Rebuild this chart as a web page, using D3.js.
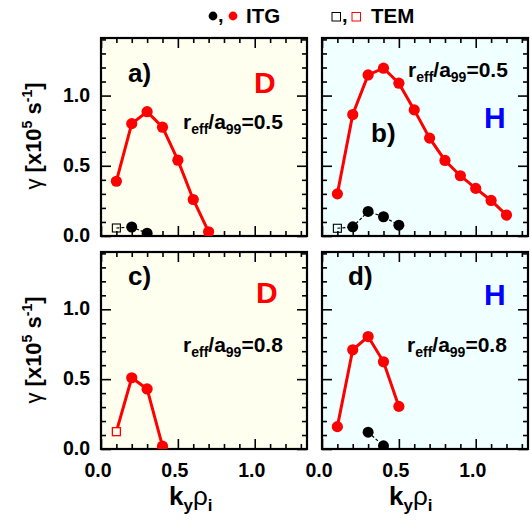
<!DOCTYPE html>
<html>
<head>
<meta charset="utf-8">
<script src="https://cdn.jsdelivr.net/npm/d3@7"></script>
<style>
  body { margin: 0; background: #fff; }
  svg { font-family: "Liberation Sans", Arial, sans-serif; font-weight: bold; }
</style>
</head>
<body>
<svg width="530" height="522"></svg>
<script>
// values
const kyA = [0.1, 0.2, 0.3, 0.4, 0.5, 0.6, 0.7];
const itgA = [0.39, 0.80, 0.885, 0.775, 0.54, 0.26, 0.03];
const kyA_blk = [0.2, 0.3];
const itgA_blk = [0.064, 0.02];
const temA_blk = [[0.1, 0.057]];

const kyB = [0.1, 0.2, 0.3, 0.4, 0.5, 0.6, 0.7, 0.8, 0.9, 1.0, 1.1, 1.2];
const itgB = [0.30, 0.865, 1.147, 1.195, 1.088, 0.898, 0.697, 0.538, 0.429, 0.339, 0.253, 0.149];
const kyB_blk = [0.2, 0.3, 0.4, 0.5];
const itgB_blk = [0.065, 0.175, 0.137, 0.077];
const temB_blk = [[0.1, 0.055]];

const kyC = [0.2, 0.3, 0.4];
const itgC = [0.51, 0.43, 0.02];
const temC_red = [[0.1, 0.124]];

const kyD = [0.1, 0.2, 0.3, 0.4, 0.5];
const itgD = [0.16, 0.71, 0.805, 0.624, 0.305];
const kyD_blk = [0.3, 0.4];
const itgD_blk = [0.12, 0.023];

const xTicks = [0.0, 0.5, 1.0];
const yTicks = [0.0, 0.5, 1.0];

const svg = d3.select("svg");

const panels = [
  { x0: 101, x1: 307, y0: 38, y1: 236, bg: "#fffff0", label: "a)", lab: [128, 82],
    ion: "D", ionCol: "#ff0000", ionPos: [254, 93], r: "0.5", rPos: [183, 129],
    red: kyA.map((k, i) => [k, itgA[i]]), redSq: [],
    blk: kyA_blk.map((k, i) => [k, itgA_blk[i]]), blkSq: temA_blk,
    xLab: false, yLab: true },
  { x0: 322, x1: 528, y0: 38, y1: 236, bg: "#f0ffff", label: "b)", lab: [371, 142],
    ion: "H", ionCol: "#0000ff", ionPos: [484, 128], r: "0.5", rPos: [408, 77],
    red: kyB.map((k, i) => [k, itgB[i]]), redSq: [],
    blk: kyB_blk.map((k, i) => [k, itgB_blk[i]]), blkSq: temB_blk,
    xLab: false, yLab: false },
  { x0: 101, x1: 307, y0: 252, y1: 449, bg: "#fffff0", label: "c)", lab: [128, 285],
    ion: "D", ionCol: "#ff0000", ionPos: [256, 303], r: "0.8", rPos: [183, 352],
    red: kyC.map((k, i) => [k, itgC[i]]), redSq: temC_red,
    blk: [], blkSq: [],
    xLab: true, yLab: true },
  { x0: 322, x1: 528, y0: 252, y1: 449, bg: "#f0ffff", label: "d)", lab: [348, 285],
    ion: "H", ionCol: "#0000ff", ionPos: [484, 305], r: "0.8", rPos: [407, 352],
    red: kyD.map((k, i) => [k, itgD[i]]), redSq: [],
    blk: kyD_blk.map((k, i) => [k, itgD_blk[i]]), blkSq: [],
    xLab: true, yLab: false }
];

const minor = d3.range(0, 14).map(d => d / 10);
const minorY = d3.range(0, 15).map(d => d / 10);

panels.forEach(p => {
  const x = d3.scaleLinear().domain([0, 1.34]).range([p.x0, p.x1]);
  const y = d3.scaleLinear().domain([0, 1.41]).range([p.y1, p.y0]);
  const g = svg.append("g");

  g.append("rect")
    .attr("x", p.x0).attr("y", p.y0)
    .attr("width", p.x1 - p.x0).attr("height", p.y1 - p.y0)
    .attr("fill", p.bg);

  // ticks on all four sides, pointing in
  const ax = (axis, tr, vals, size) => {
    const a = g.append("g").attr("transform", tr)
      .call(axis.tickValues(vals).tickSize(size).tickFormat(""));
    a.select(".domain").remove();
    a.selectAll("line").attr("stroke", "#000").attr("stroke-width", 1.6);
  };
  const minX = minor.filter(v => Math.abs(v * 2 - Math.round(v * 2)) > 1e-6);
  const minY = minorY.filter(v => Math.abs(v * 2 - Math.round(v * 2)) > 1e-6);
  ax(d3.axisBottom(x), `translate(0,${p.y1})`, xTicks, -10);
  ax(d3.axisBottom(x), `translate(0,${p.y1})`, minX, -5);
  ax(d3.axisTop(x), `translate(0,${p.y0})`, xTicks, -10);
  ax(d3.axisTop(x), `translate(0,${p.y0})`, minX, -5);
  ax(d3.axisLeft(y), `translate(${p.x0},0)`, yTicks, -10);
  ax(d3.axisLeft(y), `translate(${p.x0},0)`, minY, -5);
  ax(d3.axisRight(y), `translate(${p.x1},0)`, yTicks, -10);
  ax(d3.axisRight(y), `translate(${p.x1},0)`, minY, -5);

  g.append("rect")
    .attr("x", p.x0).attr("y", p.y0)
    .attr("width", p.x1 - p.x0).attr("height", p.y1 - p.y0)
    .attr("fill", "none").attr("stroke", "#000").attr("stroke-width", 2.2);

  if (p.yLab) {
    g.selectAll(".yl").data(yTicks).join("text")
      .attr("x", p.x0 - 11).attr("y", d => y(d) + 6)
      .attr("text-anchor", "end").attr("font-size", 19.5)
      .text(d => d.toFixed(1));
  }
  if (p.xLab) {
    g.selectAll(".xl").data(xTicks).join("text")
      .attr("x", d => x(d) - 3).attr("y", p.y1 + 28)
      .attr("text-anchor", "middle").attr("font-size", 19.5)
      .text(d => d.toFixed(1));
  }

  const line = d3.line().x(d => x(d[0])).y(d => y(d[1]));
  const clip = "clip" + p.label[0];
  svg.append("clipPath").attr("id", clip).append("rect")
    .attr("x", p.x0).attr("y", p.y0 - 10)
    .attr("width", p.x1 - p.x0).attr("height", p.y1 - p.y0 + 10);
  const m = g.append("g").attr("clip-path", `url(#${clip})`);

  // black (dashed) series
  const blkAll = p.blkSq.concat(p.blk);
  if (blkAll.length > 1) {
    m.append("path").attr("d", line(blkAll))
      .attr("fill", "none").attr("stroke", "#000")
      .attr("stroke-width", 1.2).attr("stroke-dasharray", "3,2");
  }
  m.selectAll(".bs").data(p.blkSq).join("rect")
    .attr("x", d => x(d[0]) - 4).attr("y", d => y(d[1]) - 4)
    .attr("width", 8).attr("height", 8)
    .attr("fill", "none").attr("stroke", "#000").attr("stroke-width", 1.1);
  m.selectAll(".bc").data(p.blk).join("circle")
    .attr("cx", d => x(d[0])).attr("cy", d => y(d[1])).attr("r", 5.5)
    .attr("fill", "#000");

  // red series
  const redAll = p.redSq.concat(p.red);
  m.append("path").attr("d", line(redAll))
    .attr("fill", "none").attr("stroke", "#ff0000").attr("stroke-width", 3);
  m.selectAll(".rs").data(p.redSq).join("rect")
    .attr("x", d => x(d[0]) - 4).attr("y", d => y(d[1]) - 4)
    .attr("width", 8).attr("height", 8)
    .attr("fill", p.bg).attr("stroke", "#ff0000").attr("stroke-width", 1.3);
  m.selectAll(".rc").data(p.red).join("circle")
    .attr("cx", d => x(d[0])).attr("cy", d => y(d[1])).attr("r", 5.6)
    .attr("fill", "#ff0000");

  // annotations
  g.append("text").attr("x", p.lab[0]).attr("y", p.lab[1])
    .attr("font-size", 26).text(p.label);
  g.append("text").attr("x", p.ionPos[0]).attr("y", p.ionPos[1])
    .attr("font-size", 30).attr("fill", p.ionCol).text(p.ion);
  const t = g.append("text").attr("x", p.rPos[0]).attr("y", p.rPos[1])
    .attr("font-size", 21);
  t.append("tspan").text("r");
  t.append("tspan").attr("font-size", 14).attr("dy", 5).text("eff");
  t.append("tspan").attr("dy", -5).text("/a");
  t.append("tspan").attr("font-size", 14).attr("dy", 5).text("99");
  t.append("tspan").attr("dy", -5).text("=" + p.r);
});

// y axis titles
[136, 350].forEach(cy => {
  const t = svg.append("text")
    .attr("transform", `translate(41,${cy}) rotate(-90)`)
    .attr("text-anchor", "middle").attr("font-size", 22);
  t.append("tspan").attr("font-weight", "normal").text("\u03b3");
  t.append("tspan").text(" [x10");
  t.append("tspan").attr("font-size", 14).attr("dy", -9).text("5");
  t.append("tspan").attr("dy", 9).text(" s");
  t.append("tspan").attr("font-size", 14).attr("dy", -9).text("-1");
  t.append("tspan").attr("dy", 9).text("]");
});

// x axis titles
[[169, 505], [389, 505]].forEach(([px, py]) => {
  const t = svg.append("text").attr("x", px).attr("y", py).attr("font-size", 26);
  t.append("tspan").text("k");
  t.append("tspan").attr("font-size", 17).attr("dy", 6).text("y");
  t.append("tspan").attr("dy", -6).attr("font-weight", "normal").text("\u03c1");
  t.append("tspan").attr("font-size", 17).attr("dy", 6).text("i");
});

// legend
const lg = svg.append("g");
lg.append("circle").attr("cx", 213).attr("cy", 16).attr("r", 4.4).attr("fill", "#000");
lg.append("text").attr("x", 218).attr("y", 22).attr("font-size", 20).text(",");
lg.append("circle").attr("cx", 233).attr("cy", 16).attr("r", 4.4).attr("fill", "#ff0000");
lg.append("text").attr("x", 246).attr("y", 23).attr("font-size", 20.5).text("ITG");
lg.append("rect").attr("x", 332).attr("y", 12.5).attr("width", 8.5).attr("height", 8.5)
  .attr("fill", "none").attr("stroke", "#000").attr("stroke-width", 1);
lg.append("text").attr("x", 342).attr("y", 22).attr("font-size", 20).text(",");
lg.append("rect").attr("x", 352).attr("y", 12.5).attr("width", 8.5).attr("height", 8.5)
  .attr("fill", "none").attr("stroke", "#ff0000").attr("stroke-width", 1);
lg.append("text").attr("x", 371).attr("y", 23).attr("font-size", 20.5).text("TEM");
</script>
</body>
</html>
